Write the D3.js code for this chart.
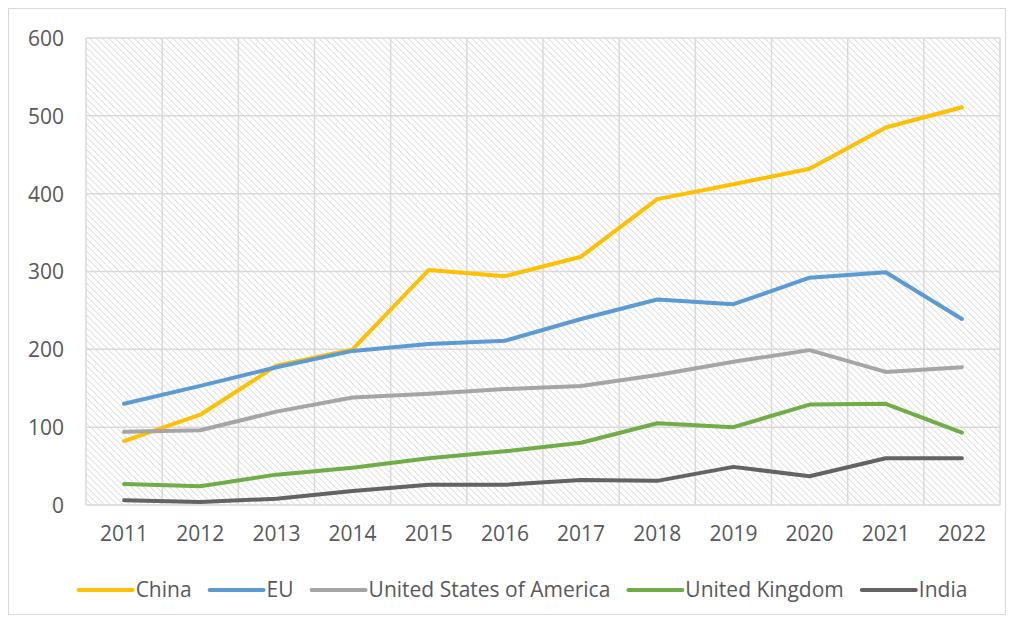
<!DOCTYPE html>
<html>
<head>
<meta charset="utf-8">
<script src="https://cdn.jsdelivr.net/npm/d3@7"></script>
<style>
  body { margin: 0; background: #fff; }
  svg text { font-family: "Open Sans", "Liberation Sans", sans-serif; fill: #595959; }
</style>
</head>
<body>
<div id="chart"></div>
<script>
// categories and values
var years = ["2011","2012","2013","2014","2015","2016","2017","2018","2019","2020","2021","2022"];
var china = [82,116,179,200,302,294,319,393,412,432,485,511];
var eu    = [130,153,177,198,207,211,239,264,258,292,299,239];
var usa   = [94,96,120,138,143,149,153,167,184,199,171,177];
var uk    = [27,24,39,48,60,69,80,105,100,129,130,93];
var india = [6,4,8,18,26,26,32,31,49,37,60,60];
var seriesNames = ["China","EU","United States of America","United Kingdom","India"];
var yTicks = [0,100,200,300,400,500,600];

var colors = ["#FFC000","#5B9BD5","#A5A5A5","#70AD47","#636363"];
var series = [china, eu, usa, uk, india].map(function(v, i){
  return {name: seriesNames[i], values: v, color: colors[i]};
});

var width = 1014, height = 623;
var plot = {left: 86, right: 1000, top: 38, bottom: 505};
var fontSize = 21;

var svg = d3.select("#chart").append("svg")
  .attr("width", width).attr("height", height);

// outer frame
svg.append("rect")
  .attr("x", 8.5).attr("y", 8.5)
  .attr("width", width - 17).attr("height", height - 17)
  .attr("fill", "#fff").attr("stroke", "#d9d9d9").attr("stroke-width", 1);

// hatch fill for plot area
var defs = svg.append("defs");
var pat = defs.append("pattern")
  .attr("id", "hatch")
  .attr("patternUnits", "userSpaceOnUse")
  .attr("width", 4.5).attr("height", 4.5)
  .attr("patternTransform", "rotate(-45)");
pat.append("line")
  .attr("x1", 0).attr("y1", 0).attr("x2", 0).attr("y2", 4.5)
  .attr("stroke", "#d0d0d0").attr("stroke-width", 1.3);

var x = d3.scaleBand().domain(years).range([plot.left, plot.right]);
var y = d3.scaleLinear().domain([0, 600]).range([plot.bottom, plot.top]);

svg.append("rect")
  .attr("x", plot.left).attr("y", plot.top)
  .attr("width", plot.right - plot.left).attr("height", plot.bottom - plot.top)
  .attr("fill", "url(#hatch)");

// gridlines
var grid = svg.append("g");
grid.selectAll("line.h").data(yTicks).enter().append("line")
  .attr("x1", plot.left).attr("x2", plot.right)
  .attr("y1", function(d){ return y(d); }).attr("y2", function(d){ return y(d); })
  .attr("stroke", "#d9d9d9").attr("stroke-width", 1.5);
var bounds = years.map(function(d){ return x(d); }).concat([plot.right]);
grid.selectAll("line.v").data(bounds).enter().append("line")
  .attr("y1", plot.top).attr("y2", plot.bottom)
  .attr("x1", function(d){ return d; }).attr("x2", function(d){ return d; })
  .attr("stroke", "#d9d9d9").attr("stroke-width", 1.5);

// axes
var yAxis = svg.append("g")
  .attr("transform", "translate(" + (plot.left - 22) + ",0)")
  .call(d3.axisLeft(y).tickValues(yTicks).tickSize(0).tickPadding(0));
yAxis.select(".domain").remove();
yAxis.selectAll("text").attr("font-size", fontSize).attr("dy", "0.35em");

var xAxis = svg.append("g")
  .attr("transform", "translate(0," + plot.bottom + ")")
  .call(d3.axisBottom(x).tickSize(0).tickPadding(21));
xAxis.select(".domain").remove();
xAxis.selectAll("text").attr("font-size", fontSize);

// lines
var line = d3.line()
  .x(function(d, i){ return x(years[i]) + x.bandwidth() / 2; })
  .y(function(d){ return y(d); });

svg.append("g").selectAll("path").data(series).enter().append("path")
  .attr("d", function(d){ return line(d.values); })
  .attr("fill", "none")
  .attr("stroke", function(d){ return d.color; })
  .attr("stroke-width", 4)
  .attr("stroke-linejoin", "round")
  .attr("stroke-linecap", "round");

// legend
var legend = svg.append("g").attr("transform", "translate(0,590)");
var swatch = 54, gapText = 3, gapItem = 18;
var items = legend.selectAll("g").data(series).enter().append("g");
items.append("line")
  .attr("x1", 0).attr("x2", swatch).attr("y1", 0).attr("y2", 0)
  .attr("stroke", function(d){ return d.color; })
  .attr("stroke-width", 4).attr("stroke-linecap", "round");
items.append("text")
  .attr("x", swatch + gapText).attr("y", 0).attr("dy", "0.35em")
  .attr("font-size", fontSize)
  .text(function(d){ return d.name; });
var widths = [];
items.each(function(){ widths.push(this.getBBox().width); });
var total = d3.sum(widths) + gapItem * (widths.length - 1);
var cx = (78 + 968) / 2 - total / 2;
items.attr("transform", function(d, i){
  var pos = cx;
  cx += widths[i] + gapItem;
  return "translate(" + pos + ",0)";
});
</script>
</body>
</html>
